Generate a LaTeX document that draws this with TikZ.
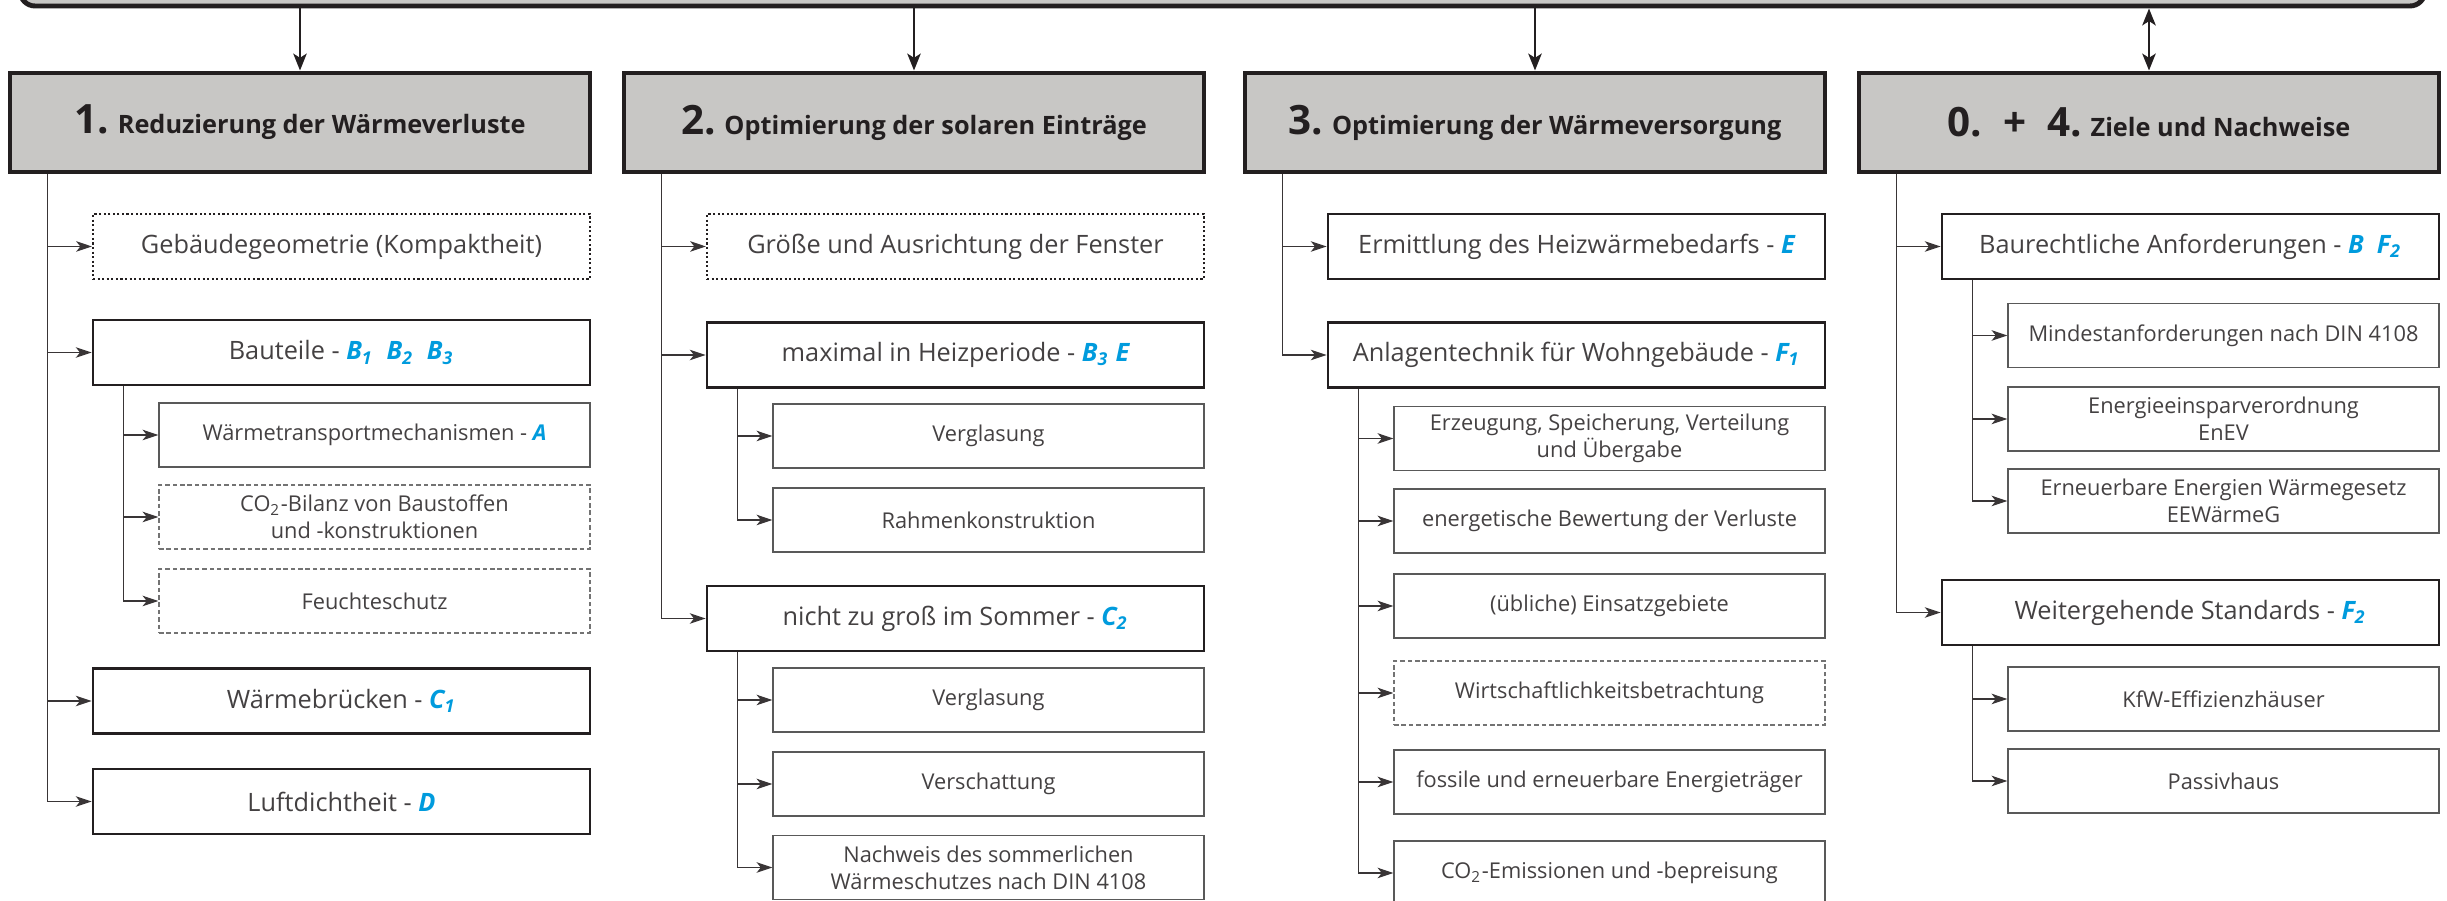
\documentclass[tikz,border=0pt]{standalone}
\usepackage{fontspec}
\setmainfont{Open Sans}
\usetikzlibrary{arrows.meta}
\definecolor{kgrau}{RGB}{200,199,197}
\definecolor{kblau}{RGB}{0,155,221}
\definecolor{kdunkel}{RGB}{35,31,32}
\newcommand{\kz}[1]{{\color{kblau}\bfseries\itshape #1}}
\newcommand{\nr}[1]{{\fontsize{11.5}{12}\selectfont #1}}

\begin{document}
\begin{tikzpicture}
        [x=0.1mm, y=-0.1mm, every node/.style={align=center, inner sep=0, text=kdunkel},
        kopf/.style={draw=kdunkel, line width=1.4pt, fill=kgrau, minimum width=58mm, minimum height=9.9mm, font=\bfseries\fontsize{7.2}{9}\selectfont},
        haupt/.style={draw=kdunkel, line width=0.8pt, minimum width=49.7mm, minimum height=6.5mm, text=kdunkel!85, font=\fontsize{7.2}{9}\selectfont},
        punkt/.style={haupt, line width=0.6pt, dash pattern=on 0.6pt off 0.7pt},
        unter/.style={draw=black!65, line width=0.35pt, minimum width=43.1mm, minimum height=6.4mm, text=kdunkel!85, font=\fontsize{6.2}{7.6}\selectfont},
        strich/.style={unter, draw=black!55, dash pattern=on 1.3pt off 0.8pt},
        pfeil/.style={draw=kdunkel!90, line width=0.35pt, -{Stealth[length=4.5pt, width=3pt, inset=1.2pt]}},
        hpfeil/.style={draw=kdunkel, line width=0.8pt, -{Stealth[length=4.8pt, width=3.8pt, inset=1.2pt]}},
        hdpfeil/.style={draw=kdunkel, line width=0.8pt, {Stealth[length=4.8pt, width=3.8pt, inset=1.2pt]}-{Stealth[length=4.8pt, width=3.8pt, inset=1.2pt]}}]

        \useasboundingbox (0, 0) rectangle (2447, 901);
        \clip (0, 0) rectangle (2447, 901);

        \node[draw=kdunkel, line width=1.4pt, fill=kgrau, rounded corners=1.5mm, minimum width=240.5mm, minimum height=9.2mm] (top) at (1222.5, -40) {};

        \node[kopf] (h1) at (300, 122.5) {\nr{1.} Reduzierung der Wärmeverluste};
        \node[kopf] (h2) at (914, 122.5) {\nr{2.} Optimierung der solaren Einträge};
        \node[kopf] (h3) at (1535, 122.5) {\nr{3.} Optimierung der Wärmeversorgung};
        \node[kopf] (h4) at (2149, 122.5) {\nr{0.\ \ +\ \ 4.} Ziele und Nachweise};

        \node[punkt] (a1) at (341.5, 246.5) {Gebäudegeometrie (Kompaktheit)};
        \node[haupt] (a2) at (341.5, 352.5) {Bauteile - \kz{B\textsubscript{1}\ \ B\textsubscript{2}\ \ B\textsubscript{3}}};
        \node[unter] (a21) at (374.5, 435) {Wärmetransportmechanismen - \kz{A}};
        \node[strich] (a22) at (374.5, 517) {CO\textsubscript{2}-Bilanz von Baustoffen\\und -konstruktionen};
        \node[strich] (a23) at (374.5, 601) {Feuchteschutz};
        \node[haupt] (a3) at (341.5, 701) {Wärmebrücken - \kz{C\textsubscript{1}}};
        \node[haupt] (a4) at (341.5, 801.5) {Luftdichtheit - \kz{D}};

        \node[punkt] (b1) at (955.5, 246.5) {Größe und Ausrichtung der Fenster};
        \node[haupt] (b2) at (955.5, 355) {maximal in Heizperiode - \kz{B\textsubscript{3} E}};
        \node[unter] (b21) at (988.5, 436) {Verglasung};
        \node[unter] (b22) at (988.5, 520) {Rahmenkonstruktion};
        \node[haupt] (b3) at (955.5, 618.5) {nicht zu groß im Sommer - \kz{C\textsubscript{2}}};
        \node[unter] (b31) at (988.5, 700) {Verglasung};
        \node[unter] (b32) at (988.5, 784) {Verschattung};
        \node[unter] (b33) at (988.5, 867.5) {Nachweis des sommerlichen\\Wärmeschutzes nach DIN 4108};

        \node[haupt] (c1) at (1576.5, 246.5) {Ermittlung des Heizwärmebedarfs - \kz{E}};
        \node[haupt] (c2) at (1576.5, 355) {Anlagentechnik für Wohngebäude - \kz{F\textsubscript{1}}};
        \node[unter] (c21) at (1609.5, 438.5) {Erzeugung, Speicherung, Verteilung\\und Übergabe};
        \node[unter] (c22) at (1609.5, 521) {energetische Bewertung der Verluste};
        \node[unter] (c23) at (1609.5, 606) {(übliche) Einsatzgebiete};
        \node[strich] (c24) at (1609.5, 693) {Wirtschaftlichkeitsbetrachtung};
        \node[unter] (c25) at (1609.5, 782) {fossile und erneuerbare Energieträger};
        \node[unter] (c26) at (1609.5, 873) {CO\textsubscript{2}-Emissionen und -bepreisung};

        \node[haupt] (d1) at (2190.5, 246.5) {Baurechtliche Anforderungen - \kz{B\ \ F\textsubscript{2}}};
        \node[unter] (d11) at (2223.5, 335.5) {Mindestanforderungen nach DIN 4108};
        \node[unter] (d12) at (2223.5, 419) {Energieeinsparverordnung\\EnEV};
        \node[unter] (d13) at (2223.5, 501) {Erneuerbare Energien Wärmegesetz\\EEWärmeG};
        \node[haupt] (d2) at (2190.5, 612.5) {Weitergehende Standards - \kz{F\textsubscript{2}}};
        \node[unter] (d21) at (2223.5, 699) {KfW-Effizienzhäuser};
        \node[unter] (d22) at (2223.5, 781) {Passivhaus};

        \draw[hpfeil] (top.south -| h1.north) -- (h1.north);
        \draw[hpfeil] (top.south -| h2.north) -- (h2.north);
        \draw[hpfeil] (top.south -| h3.north) -- (h3.north);
        \draw[hdpfeil] (top.south -| h4.north) -- (h4.north);

        \draw[pfeil] ([xshift=4mm]h1.south west) |- (a1.west);
        \draw[pfeil] ([xshift=4mm]h1.south west) |- (a2.west);
        \draw[pfeil] ([xshift=4mm]h1.south west) |- (a3.west);
        \draw[pfeil] ([xshift=4mm]h1.south west) |- (a4.west);
        \draw[pfeil] ([xshift=3.2mm]a2.south west) |- (a21.west);
        \draw[pfeil] ([xshift=3.2mm]a2.south west) |- (a22.west);
        \draw[pfeil] ([xshift=3.2mm]a2.south west) |- (a23.west);

        \draw[pfeil] ([xshift=4mm]h2.south west) |- (b1.west);
        \draw[pfeil] ([xshift=4mm]h2.south west) |- (b2.west);
        \draw[pfeil] ([xshift=4mm]h2.south west) |- (b3.west);
        \draw[pfeil] ([xshift=3.2mm]b2.south west) |- (b21.west);
        \draw[pfeil] ([xshift=3.2mm]b2.south west) |- (b22.west);
        \draw[pfeil] ([xshift=3.2mm]b3.south west) |- (b31.west);
        \draw[pfeil] ([xshift=3.2mm]b3.south west) |- (b32.west);
        \draw[pfeil] ([xshift=3.2mm]b3.south west) |- (b33.west);

        \draw[pfeil] ([xshift=4mm]h3.south west) |- (c1.west);
        \draw[pfeil] ([xshift=4mm]h3.south west) |- (c2.west);
        \draw[pfeil] ([xshift=3.2mm]c2.south west) |- (c21.west);
        \draw[pfeil] ([xshift=3.2mm]c2.south west) |- (c22.west);
        \draw[pfeil] ([xshift=3.2mm]c2.south west) |- (c23.west);
        \draw[pfeil] ([xshift=3.2mm]c2.south west) |- (c24.west);
        \draw[pfeil] ([xshift=3.2mm]c2.south west) |- (c25.west);
        \draw[pfeil] ([xshift=3.2mm]c2.south west) |- (c26.west);

        \draw[pfeil] ([xshift=4mm]h4.south west) |- (d1.west);
        \draw[pfeil] ([xshift=4mm]h4.south west) |- (d2.west);
        \draw[pfeil] ([xshift=3.2mm]d1.south west) |- (d11.west);
        \draw[pfeil] ([xshift=3.2mm]d1.south west) |- (d12.west);
        \draw[pfeil] ([xshift=3.2mm]d1.south west) |- (d13.west);
        \draw[pfeil] ([xshift=3.2mm]d2.south west) |- (d21.west);
        \draw[pfeil] ([xshift=3.2mm]d2.south west) |- (d22.west);

      \end{tikzpicture}
\end{document}
